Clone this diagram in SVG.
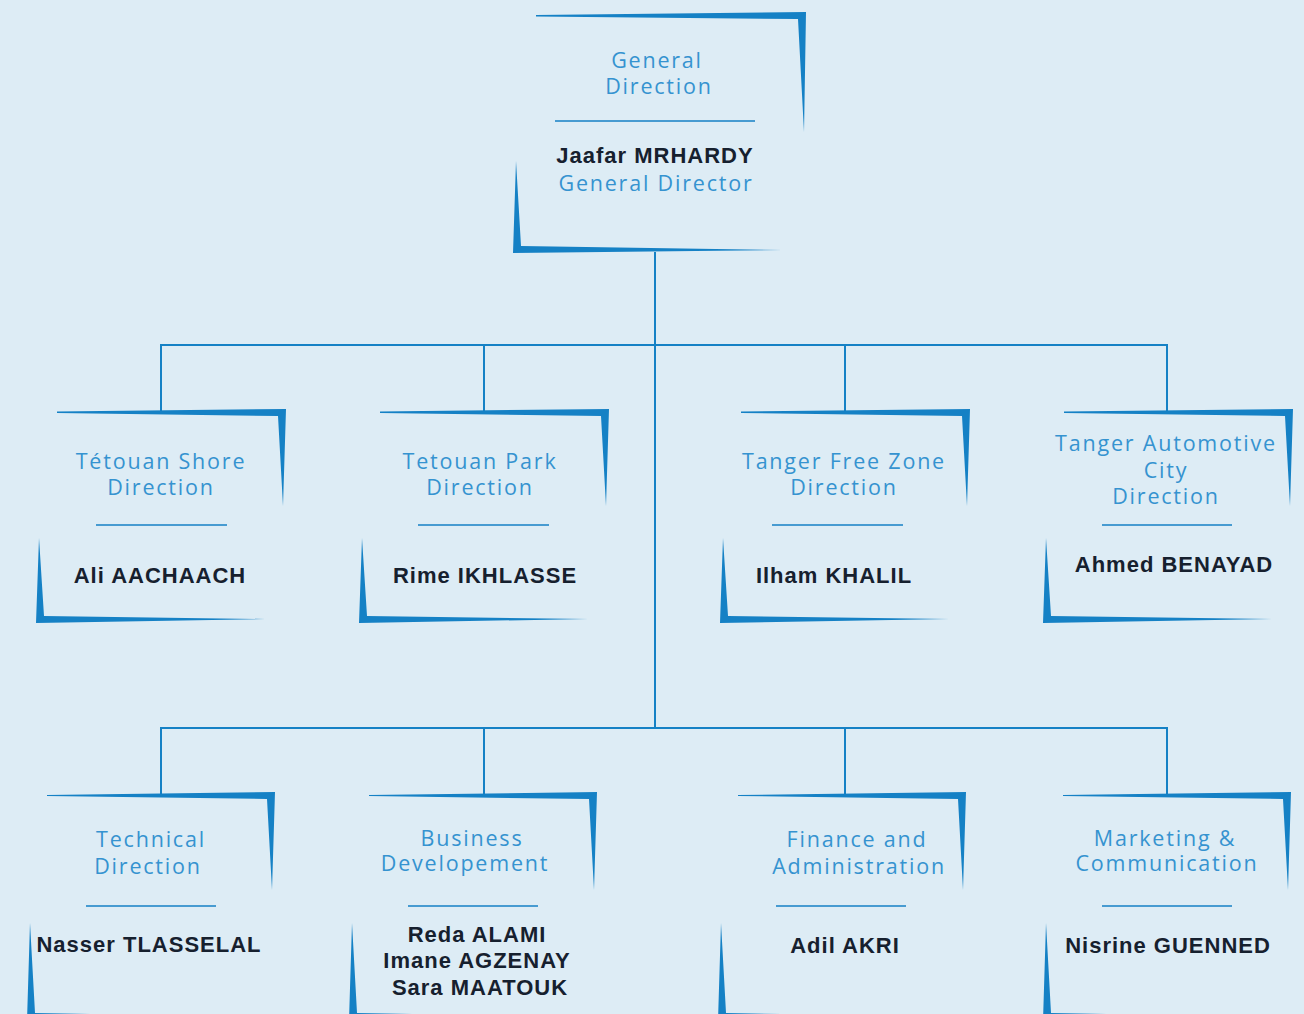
<svg xmlns="http://www.w3.org/2000/svg" width="1304" height="1014" viewBox="0 0 1304 1014">
<style>
.bg{fill:#ddecf5}
.br{fill:#1581c5}
.dv{stroke:#1581c5;stroke-width:1.6}
.ln{stroke:#1581c5;stroke-width:2;fill:none}
.t{font-family:"Open Sans","Liberation Sans",sans-serif;font-weight:400;font-size:21.5px;fill:#3593d0;text-anchor:middle;letter-spacing:1.8px}
.n{font-family:"Liberation Sans",Arial,sans-serif;font-weight:bold;font-size:22px;fill:#16202e;text-anchor:middle;letter-spacing:1px}
</style>
<defs>
<g id="b1">
<polygon class="br" points="21,2.5 250,0 247,97 242,7 21,4"/>
<polygon class="br" points="3,129 0,214 229,210 8,207"/>
</g>
<g id="b2">
<polygon class="br" points="20,3 248,0 245,98 240,7 20,4"/>
<polygon class="br" points="3,131 0,229 229,225 8,221"/>
</g>
</defs>
<rect class="bg" x="0" y="0" width="1304" height="1014"/>
<g id="connectors">
<line class="ln" x1="655" y1="252" x2="655" y2="728"/>
<line class="ln" x1="161" y1="345" x2="1167" y2="345"/>
<line class="ln" x1="161" y1="344" x2="161" y2="411"/>
<line class="ln" x1="484" y1="345" x2="484" y2="411"/>
<line class="ln" x1="845" y1="345" x2="845" y2="411"/>
<line class="ln" x1="1167" y1="344" x2="1167" y2="411"/>
<line class="ln" x1="161" y1="728" x2="1167" y2="728"/>
<line class="ln" x1="161" y1="727" x2="161" y2="794"/>
<line class="ln" x1="484" y1="728" x2="484" y2="794"/>
<line class="ln" x1="845" y1="728" x2="845" y2="794"/>
<line class="ln" x1="1167" y1="727" x2="1167" y2="794"/>
</g>
<g id="general-direction">
<polygon class="br" points="536,15 806,12 804,132 798,19 536,16.5"/>
<polygon class="br" points="516,161 513,253 782,250 521,246"/>
<text class="t" x="657" y="68">General</text>
<text class="t" x="659" y="94">Direction</text>
<line class="dv" x1="555" y1="121" x2="755" y2="121"/>
<text class="n" x="655" y="163">Jaafar MRHARDY</text>
<text class="t" x="656" y="191">General Director</text>
</g>
<g id="tetouan-shore">
<use href="#b1" x="36" y="409"/>
<text class="t" x="161" y="469">Tétouan Shore</text>
<text class="t" x="161" y="495">Direction</text>
<line class="dv" x1="96" y1="525" x2="227" y2="525"/>
<text class="n" x="160" y="583">Ali AACHAACH</text>
</g>
<g id="tetouan-park">
<use href="#b1" x="359" y="409"/>
<text class="t" x="480" y="469">Tetouan Park</text>
<text class="t" x="480" y="495">Direction</text>
<line class="dv" x1="418" y1="525" x2="549" y2="525"/>
<text class="n" x="485" y="583">Rime IKHLASSE</text>
</g>
<g id="tanger-free-zone">
<use href="#b1" x="720" y="409"/>
<text class="t" x="844" y="469">Tanger Free Zone</text>
<text class="t" x="844" y="495">Direction</text>
<line class="dv" x1="772" y1="525" x2="903" y2="525"/>
<text class="n" x="834" y="583">Ilham KHALIL</text>
</g>
<g id="tanger-automotive">
<use href="#b1" x="1043" y="409"/>
<text class="t" x="1166" y="451">Tanger Automotive</text>
<text class="t" x="1166" y="478">City</text>
<text class="t" x="1166" y="504">Direction</text>
<line class="dv" x1="1102" y1="525" x2="1232" y2="525"/>
<text class="n" x="1174" y="572">Ahmed BENAYAD</text>
</g>
<g id="technical">
<use href="#b2" x="27" y="792"/>
<text class="t" x="151" y="847">Technical</text>
<text class="t" x="148" y="874">Direction</text>
<line class="dv" x1="86" y1="906" x2="216" y2="906"/>
<text class="n" x="149" y="952">Nasser TLASSELAL</text>
</g>
<g id="business">
<use href="#b2" x="349" y="792"/>
<text class="t" x="472" y="846">Business</text>
<text class="t" x="465" y="871">Developement</text>
<line class="dv" x1="408" y1="906" x2="538" y2="906"/>
<text class="n" x="477" y="942">Reda ALAMI</text>
<text class="n" x="477" y="968">Imane AGZENAY</text>
<text class="n" x="480" y="995">Sara MAATOUK</text>
</g>
<g id="finance">
<use href="#b2" x="718" y="792"/>
<text class="t" x="857" y="847">Finance and</text>
<text class="t" x="859" y="874">Administration</text>
<line class="dv" x1="776" y1="906" x2="906" y2="906"/>
<text class="n" x="845" y="953">Adil AKRI</text>
</g>
<g id="marketing">
<use href="#b2" x="1043" y="792"/>
<text class="t" x="1165" y="846">Marketing &amp;</text>
<text class="t" x="1167" y="871">Communication</text>
<line class="dv" x1="1102" y1="906" x2="1232" y2="906"/>
<text class="n" x="1168" y="953">Nisrine GUENNED</text>
</g>
</svg>
